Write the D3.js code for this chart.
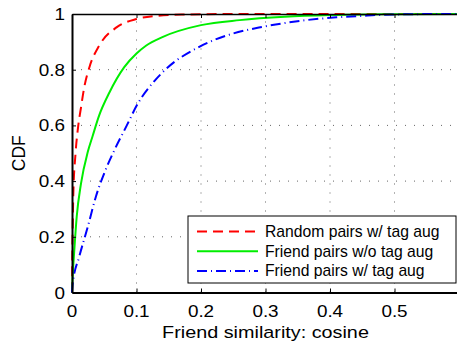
<!DOCTYPE html>
<html>
<head>
<meta charset="utf-8">
<script src="https://cdn.jsdelivr.net/npm/d3@7"></script>
<style>
  body { margin: 0; background: #fff; }
  text { font-family: "Liberation Sans", Arial, sans-serif; fill: #000; }
</style>
</head>
<body>
<div id="chart"></div>
<script>
// set dimensions
var width = 457;
var height = 347;

// data
var seriesNames = ["Random pairs w/ tag aug", "Friend pairs w/o tag aug", "Friend pairs w/ tag aug"];

var randomX = [0, 0.0005, 0.001, 0.002, 0.0055, 0.0094, 0.014, 0.019, 0.027, 0.042, 0.069, 0.1, 0.13, 0.17, 0.25, 0.6];
var randomY = [0, 0.15, 0.22, 0.35, 0.5, 0.593, 0.665, 0.737, 0.809, 0.886, 0.952, 0.982, 0.993, 0.998, 1, 1];

var friendX = [0, 0.001, 0.0036, 0.0073, 0.014, 0.0245, 0.032, 0.042, 0.058, 0.081, 0.1, 0.1146, 0.141, 0.2, 0.26, 0.33, 0.4, 0.5, 0.6];
var friendY = [0, 0.057, 0.153, 0.272, 0.392, 0.505, 0.562, 0.635, 0.718, 0.809, 0.858, 0.886, 0.918, 0.96, 0.978, 0.99, 0.996, 0.999, 1];

var tagX = [0, 0.001, 0.0113, 0.0245, 0.037, 0.052, 0.0655, 0.085, 0.1017, 0.128, 0.147, 0.198, 0.25, 0.296, 0.363, 0.41, 0.45, 0.47, 0.52, 0.58, 0.6];
var tagY = [0, 0.03, 0.129, 0.236, 0.344, 0.44, 0.51, 0.6, 0.677, 0.76, 0.805, 0.883, 0.93, 0.954, 0.978, 0.988, 0.993, 0.996, 0.999, 1, 1];

var xTicks = [0, 0.1, 0.2, 0.3, 0.4, 0.5];
var xTickLabels = ["0", "0.1", "0.2", "0.3", "0.4", "0.5"];
var yTicks = [0, 0.2, 0.4, 0.6, 0.8, 1];
var yTickLabels = ["0", "0.2", "0.4", "0.6", "0.8", "1"];

var colors = ["#ff0000", "#00ee00", "#0000ff"];
var dashes = ["10,6", null, "10,4,1,4"];

var svg = d3.select("#chart")
  .append("svg")
    .attr("width", width)
    .attr("height", height);

var x = d3.scaleLinear().domain([0, 0.6]).range([72, 459]);
var y = d3.scaleLinear().domain([0, 1]).range([292.5, 14]);

// grid
svg.append("g")
  .selectAll("line")
  .data(xTicks.slice(1))
  .enter()
  .append("line")
    .attr("x1", function(d){ return x(d); })
    .attr("x2", function(d){ return x(d); })
    .attr("y1", y(0))
    .attr("y2", y(1))
    .attr("stroke", "#666")
    .attr("stroke-dasharray", "1,8");

svg.append("g")
  .selectAll("line")
  .data(yTicks.slice(1, -1))
  .enter()
  .append("line")
    .attr("x1", x(0))
    .attr("x2", x(0.6))
    .attr("y1", function(d){ return y(d); })
    .attr("y2", function(d){ return y(d); })
    .attr("stroke", "#666")
    .attr("stroke-dasharray", "1,8");

// curves
var line = d3.line()
  .x(function(d){ return x(d[0]); })
  .y(function(d){ return y(d[1]); })
  .curve(d3.curveMonotoneX);

var series = [d3.zip(randomX, randomY), d3.zip(friendX, friendY), d3.zip(tagX, tagY)];

svg.append("g")
  .selectAll("path")
  .data(series)
  .enter()
  .append("path")
    .attr("d", line)
    .attr("fill", "none")
    .attr("stroke", function(d, i){ return colors[i]; })
    .attr("stroke-width", 2)
    .attr("stroke-dasharray", function(d, i){ return dashes[i]; });

// axes (labels drawn separately, the original font is a bit wide)
var xAxis = svg.append("g")
  .attr("transform", "translate(0," + y(0) + ")")
  .call(d3.axisBottom(x).tickValues(xTicks).tickSizeInner(-4).tickSizeOuter(0).tickFormat(""));
xAxis.select(".domain").attr("stroke-width", 2);

var yAxis = svg.append("g")
  .attr("transform", "translate(" + x(0) + ",0)")
  .call(d3.axisLeft(y).tickValues(yTicks).tickSizeInner(-4).tickSizeOuter(0).tickFormat(""));
yAxis.select(".domain").attr("stroke-width", 2);

var topAxis = svg.append("g")
  .attr("transform", "translate(0," + y(1) + ")")
  .call(d3.axisTop(x).tickValues(xTicks).tickSizeInner(-4).tickSizeOuter(0).tickFormat(""));
topAxis.select(".domain").attr("stroke-width", 1.5);

svg.append("g")
  .selectAll("text")
  .data(xTicks)
  .enter()
  .append("text")
    .attr("transform", function(d){ return "translate(" + x(d) + ",316.5) scale(1.18,1)"; })
    .attr("text-anchor", "middle")
    .style("font-size", "16px")
    .text(function(d, i){ return xTickLabels[i]; });

svg.append("g")
  .selectAll("text")
  .data(yTicks)
  .enter()
  .append("text")
    .attr("transform", function(d){ return "translate(65," + (y(d) + 6) + ") scale(1.18,1)"; })
    .attr("text-anchor", "end")
    .style("font-size", "16px")
    .text(function(d, i){ return yTickLabels[i]; });

// axis labels
svg.append("text")
  .attr("transform", "translate(" + (x(0) + x(0.6)) / 2 + ",338) scale(1.2,1)")
  .attr("text-anchor", "middle")
  .style("font-size", "16.5px")
  .text("Friend similarity: cosine");

svg.append("text")
  .attr("transform", "translate(25," + (y(0) + y(1)) / 2 + ") rotate(-90)")
  .attr("text-anchor", "middle")
  .style("font-size", "17.5px")
  .text("CDF");

// legend
var legend = svg.append("g");
legend.append("rect")
  .attr("x", 188)
  .attr("y", 216)
  .attr("width", 268)
  .attr("height", 67)
  .attr("fill", "#fff")
  .attr("stroke", "#000")
  .attr("stroke-width", 1);

var rows = legend.selectAll(".row")
  .data(seriesNames)
  .enter()
  .append("g")
    .attr("transform", function(d, i){ return "translate(0," + (231.5 + i * 19.7) + ")"; });

rows.append("line")
  .attr("x1", 197)
  .attr("x2", 258)
  .attr("stroke", function(d, i){ return colors[i]; })
  .attr("stroke-width", 2)
  .attr("stroke-dasharray", function(d, i){ return dashes[i]; });

rows.append("text")
  .attr("x", 265)
  .attr("dy", "0.35em")
  .style("font-size", "15.7px")
  .text(function(d){ return d; });
</script>
</body>
</html>
